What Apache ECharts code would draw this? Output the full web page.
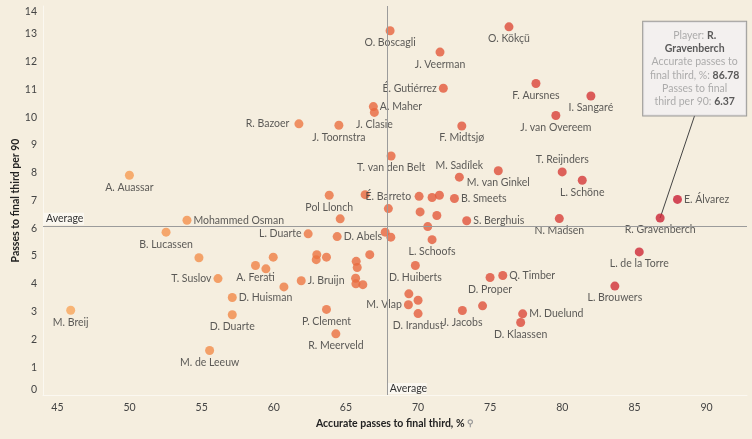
<!DOCTYPE html>
<html>
<head>
<meta charset="utf-8">
<script src="https://cdn.jsdelivr.net/npm/echarts@6/dist/echarts.min.js"></script>
<style>
html,body{margin:0;padding:0;background:#f5eedf;}
#c{width:752px;height:439px;}
</style>
</head>
<body>
<div id="c"></div>
<script>
// ---- data ----
const names = [
  'A. Auassar','O. Boscagli','J. Veerman','É. Gutiérrez','A. Maher','J. Clasie','R. Bazoer','J. Toornstra',
  'F. Midtsjø','T. van den Belt','M. Sadílek','M. van Ginkel','É. Barreto','Pol Llonch','','',
  '','','B. Smeets','','','','S. Berghuis','',
  '','','L. Schoofs','L. Duarte','D. Abels','','','',
  '','','A. Ferati','','','','D. Huiberts','J. Bruijn',
  '','','','','','','M. Vlap','D. Irandust',
  'P. Clement','R. Meerveld','J. Jacobs','','D. Proper','Q. Timber','M. Duelund','D. Klaassen',
  'N. Madsen','R. Gravenberch','L. de la Torre','L. Brouwers','E. Álvarez','O. Kökçü','F. Aursnes','I. Sangaré',
  'J. van Overeem','T. Reijnders','L. Schöne','Mohammed Osman','B. Lucassen','','T. Suslov','D. Huisman',
  'D. Duarte','M. de Leeuw','M. Breij'
];
const xVals = [
  49.99,68.06,71.52,71.75,66.90,66.97,61.74,64.51,
  73.03,68.13,72.86,75.56,67.94,63.84,66.33,70.07,
  70.97,71.48,72.52,70.14,71.30,64.60,73.37,70.67,
  67.72,68.11,70.97,62.38,64.39,66.65,62.98,62.94,
  63.65,59.96,58.73,59.45,65.71,65.78,69.81,61.90,
  65.67,65.69,66.17,60.70,69.36,70.00,69.33,70.00,
  63.65,64.30,73.07,74.47,74.99,75.87,77.25,77.11,
  79.79,86.78,85.33,83.64,87.98,76.30,78.17,81.98,
  79.55,79.99,81.38,53.98,52.53,54.81,56.13,57.12,
  57.12,55.55,45.92
];
const yVals = [
  7.91,13.11,12.34,11.04,10.38,10.17,9.76,9.71,
  9.68,8.60,7.84,8.07,6.71,7.19,7.21,7.15,
  7.11,7.19,7.07,6.59,6.46,6.34,6.27,6.06,
  5.86,5.68,5.59,5.80,5.70,5.05,5.05,4.87,
  4.96,4.96,4.66,4.54,4.81,4.59,4.66,4.11,
  4.20,4.00,3.97,3.89,3.64,3.41,3.25,2.93,
  3.08,2.20,3.04,3.21,4.23,4.30,2.92,2.61,
  6.35,6.37,5.15,3.92,7.04,13.25,11.21,10.76,
  10.06,8.03,7.73,6.29,5.86,4.94,4.19,3.51,
  2.89,1.60,3.05
];
const xTicks = [45,50,55,60,65,70,75,80,85,90];
const yTicks = [0,1,2,3,4,5,6,7,8,9,10,11,12,13,14];
const avgX = 67.83;
const avgY = 6.09;
const highlighted = 'R. Gravenberch';
const xTitle = 'Accurate passes to final third, %';
const yTitle = 'Passes to final third per 90';

// ---- label placement (style only) ----
const labelPlacement = {
  'É. Gutiérrez': {position:'left'},
  'A. Maher': {position:'right'},
  'R. Bazoer': {position:'left', distance:5},
  'J. Toornstra': {position:'bottom', offset:[-28,0]},
  'M. Sadílek': {position:'top', offset:[-4,0]},
  'É. Barreto': {position:'top', offset:[0,-12]},
  'B. Smeets': {position:'right'},
  'S. Berghuis': {position:'right'},
  'L. Duarte': {position:'left'},
  'D. Abels': {position:'right'},
  'A. Ferati': {position:'bottom', offset:[-9,4]},
  'D. Huiberts': {position:'bottom', offset:[20,4]},
  'J. Bruijn': {position:'right'},
  'M. Vlap': {position:'left'},
  'J. Jacobs': {position:'bottom', offset:[9,0]},
  'Q. Timber': {position:'right'},
  'M. Duelund': {position:'right'},
  'E. Álvarez': {position:'right'},
  'T. Reijnders': {position:'top', offset:[28,0]},
  'Mohammed Osman': {position:'right'},
  'T. Suslov': {position:'left'},
  'D. Huisman': {position:'right'}
};

const FONT = 'Lato';
const points = names.map((n, i) => {
  const item = {name: n, value: [xVals[i], yVals[i]]};
  if (n && labelPlacement[n]) item.label = labelPlacement[n];
  return item;
});
const hi = names.indexOf(highlighted);

const chart = echarts.init(document.getElementById('c'), null, {renderer:'canvas'});
chart.setOption({
  backgroundColor: '#f5eedf',
  animation: false,
  grid: {left:43, right:5, top:6, bottom:44, containLabel:false, outerBoundsMode:'none'},
  xAxis: {
    type:'value', min:44, max:92.8,
    axisLine:{show:true, lineStyle:{color:'#fbf8f1'}},
    axisTick:{show:false},
    splitLine:{show:false},
    axisLabel:{customValues:xTicks, color:'#444', fontSize:10.5, fontFamily:FONT, margin:7},
    name: xTitle + ' {pin|⚲}',
    nameLocation:'middle', nameGap:23, nameMoveOverlap:false,
    nameTextStyle:{color:'#222', fontWeight:'bold', fontSize:10.5, fontFamily:FONT,
      rich:{pin:{color:'#999', fontSize:9}}}
  },
  yAxis: {
    type:'value', min:0, max:14, interval:1,
    axisLine:{show:true, lineStyle:{color:'#fbf8f1'}},
    axisTick:{show:false},
    splitLine:{show:false},
    axisLabel:{color:'#444', fontSize:10.5, fontFamily:FONT, margin:6,
      verticalAlignMinLabel:'bottom', verticalAlignMaxLabel:'top'},
    name: yTitle, nameLocation:'middle', nameGap:22, nameMoveOverlap:false,
    nameTextStyle:{color:'#222', fontWeight:'bold', fontSize:10.5, fontFamily:FONT}
  },
  visualMap: {
    show:false, type:'continuous', dimension:0, seriesIndex:0, min:46, max:88,
    inRange:{color:['#f9a55a','#f28a48','#e8663d','#dc4739','#c91e35']}
  },
  series: [
    {
      type:'scatter', symbolSize:9, data: points, z:3,
      label:{show:true, position:'bottom', distance:2, formatter:'{b}', color:'#333',
        fontSize:10.5, fontFamily:FONT},
      labelLayout:{hideOverlap:false},
      markLine:{
        silent:true, symbol:'none',
        lineStyle:{color:'#9b9b9b', width:1, type:'solid'},
        label:{show:false},
        data:[{xAxis:avgX},{yAxis:avgY}]
      }
    },
    {
      type:'scatter', symbolSize:1, z:4,
      itemStyle:{color:'rgba(0,0,0,0)'},
      data:[{name:highlighted, value:[xVals[hi], yVals[hi]]}],
      label:{
        show:true, position:'top', distance:0,
        formatter: function(p){
          return '{g|Player: }{v|R.}\n{v|Gravenberch}\n{g|Accurate passes to}\n{g|final third, %: }{v|' +
            p.value[0].toFixed(2) + '}\n{g|Passes to final}\n{g|third per 90: }{v|' + p.value[1].toFixed(2) + '}';
        },
        backgroundColor:'#f3f0f3', borderColor:'#858585', borderWidth:1,
        padding:[7,6,7,6], width:91, align:'center', lineHeight:13.3,
        fontFamily:FONT, fontSize:10.5,
        rich:{
          g:{color:'#9a9a9a', fontSize:10.5, fontFamily:FONT, lineHeight:13.3},
          v:{color:'#333', fontWeight:'bold', fontSize:10.5, fontFamily:FONT, lineHeight:13.3}
        }
      },
      labelLayout:{dx:34.5, dy:-102}
    }
  ]
});

// annotations positioned through the chart's own scales
function addAnnotations(){
  const p = chart.convertToPixel({seriesIndex:0}, [xVals[hi], yVals[hi]]);
  const ax = chart.convertToPixel({xAxisIndex:0}, avgX);
  const ay = chart.convertToPixel({yAxisIndex:0}, avgY);
  const x0 = chart.convertToPixel({xAxisIndex:0}, 44);
  const y0 = chart.convertToPixel({yAxisIndex:0}, 0);
  chart.setOption({
    graphic:[
      {type:'line', z:1, shape:{x1:p[0], y1:p[1], x2:p[0]+34.5, y2:p[1]-102.5},
        style:{stroke:'#444', lineWidth:1}},
      {type:'rect', z:2, shape:{x:ax+1, y:y0-12, width:39, height:11}, style:{fill:'#faf7f0'}},
      {type:'text', z:3, style:{text:'Average', x:ax+3, y:y0-6.5, verticalAlign:'middle',
        fill:'#333', font:'10.5px ' + FONT}},
      {type:'rect', z:2, shape:{x:x0+1, y:ay-13, width:40, height:12}, style:{fill:'#faf7f0'}},
      {type:'text', z:3, style:{text:'Average', x:x0+3, y:ay-7, verticalAlign:'middle',
        fill:'#333', font:'10.5px ' + FONT}}
    ]
  });
}
addAnnotations();
</script>
</body>
</html>
